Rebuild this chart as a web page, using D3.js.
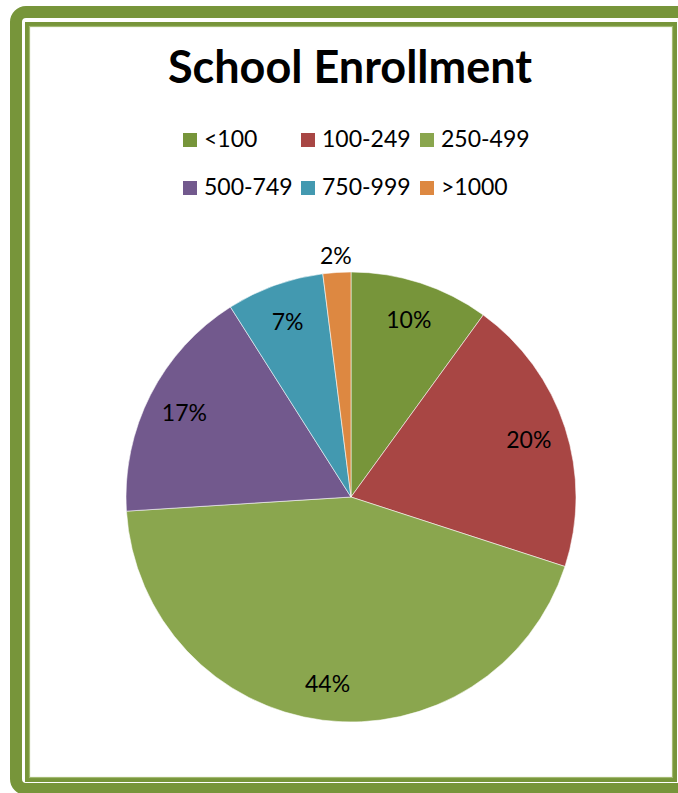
<!DOCTYPE html>
<html>
<head>
<meta charset="utf-8">
<script src="https://cdn.jsdelivr.net/npm/d3@7"></script>
<style>
  html, body { margin: 0; padding: 0; background: #ffffff; }
  svg { display: block; }
  text { font-family: Lato, "Open Sans", sans-serif; fill: #000; }
</style>
</head>
<body>
<svg id="chart" width="678" height="793"></svg>
<script>
// Enrollment size bands and their share of schools (%)
const categories = ["<100", "100-249", "250-499", "500-749", "750-999", ">1000"];
const shares = [10, 20, 44, 17, 7, 2];
const colors = ["#77953A", "#A84644", "#8AA64E", "#72598D", "#4399B0", "#DD8841"];
const title = "School Enrollment";

const W = 678, H = 793;
const svg = d3.select("#chart");

// Double green frame
svg.append("rect")
  .attr("x", 16).attr("y", 12)
  .attr("width", 700).attr("height", 777)
  .attr("rx", 10).attr("ry", 10)
  .attr("fill", "none")
  .attr("stroke", "#77953A")
  .attr("stroke-width", 12);
svg.append("rect")
  .attr("x", 27).attr("y", 24)
  .attr("width", 648).attr("height", 756)
  .attr("fill", "none")
  .attr("stroke", "#77953A")
  .attr("stroke-width", 4);
svg.append("rect")
  .attr("x", 29.5).attr("y", 26.5)
  .attr("width", 643).attr("height", 751)
  .attr("fill", "none")
  .attr("stroke", "#A3BA72")
  .attr("stroke-width", 1.2);

// Title
svg.append("text")
  .attr("x", 350).attr("y", 83)
  .attr("text-anchor", "middle")
  .attr("font-weight", "bold")
  .attr("font-size", 45)
  .text(title);

// Legend: two rows of three
const colX = [183, 301, 420];
const rowY = [147, 195];
const legend = svg.append("g");
categories.forEach((c, i) => {
  const col = i % 3, row = Math.floor(i / 3);
  const g = legend.append("g")
    .attr("transform", `translate(${colX[col]},${rowY[row]})`);
  g.append("rect")
    .attr("x", 0).attr("y", -14)
    .attr("width", 14).attr("height", 14)
    .attr("fill", colors[i]);
  g.append("text")
    .attr("x", 21).attr("y", 0)
    .attr("font-size", 23)
    .text(c);
});

// Pie, starting at 12 o'clock and running clockwise
const cx = 351, cy = 497, R = 225;
const data = categories.map((c, i) => ({ cat: c, value: shares[i], color: colors[i] }));
const pie = d3.pie().value(d => d.value).sort(null);
const arcs = pie(data);
const arc = d3.arc().innerRadius(0).outerRadius(R);

const gPie = svg.append("g").attr("transform", `translate(${cx},${cy})`);
gPie.selectAll("path.slice")
  .data(arcs)
  .join("path")
  .attr("class", "slice")
  .attr("d", arc)
  .attr("fill", d => d.data.color)
  .attr("stroke", "rgba(255,255,255,0.55)")
  .attr("stroke-width", 1);

// Percentage labels: inside near the rim, outside for tiny slices
const inLabel = d3.arc().innerRadius(187).outerRadius(187);
const outLabel = d3.arc().innerRadius(R + 17).outerRadius(R + 17);
gPie.selectAll("text.pct")
  .data(arcs)
  .join("text")
  .attr("class", "pct")
  .attr("transform", d => {
    const p = (d.data.value < 5 ? outLabel : inLabel).centroid(d);
    return `translate(${p[0]},${p[1]})`;
  })
  .attr("text-anchor", "middle")
  .attr("dominant-baseline", "central")
  .attr("font-size", 23)
  .text(d => d.data.value + "%");
</script>
</body>
</html>
